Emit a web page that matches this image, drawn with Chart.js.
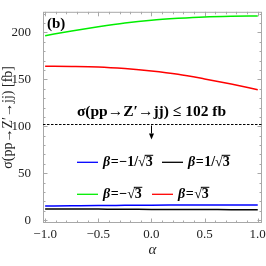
<!DOCTYPE html>
<html><head><meta charset="utf-8">
<script src="https://cdn.jsdelivr.net/npm/chart.js@4"></script>
<style>html,body{margin:0;padding:0;background:#fff;overflow:hidden}#wrap{width:266px;height:266px;position:relative}</style>
</head><body><div id="wrap"><canvas id="c"></canvas></div>
<script>
const alphaVals = [-1, -0.75, -0.5, -0.25, 0, 0.25, 0.5, 0.75, 1];
const sigmaBlue  = [15.0, 15.3, 15.6, 15.8, 16.0, 16.1, 16.2, 16.3, 16.3];
const sigmaBlack = [12.0, 11.9, 11.8, 11.7, 11.5, 11.4, 11.3, 11.2, 11.1];
const sigmaGreen = [196.6, 201.5, 206.0, 210.0, 213.0, 215.0, 216.5, 217.2, 217.5];
const sigmaRed   = [164.0, 163.8, 163.2, 161.5, 159.0, 155.5, 150.5, 145.0, 139.0];
const seriesLabels = ['β=−1/√3', 'β=1/√3', 'β=−√3', 'β=√3'];
const seriesColors = ['#0000ff', '#000000', '#00ee00', '#ff0000'];
const xTickVals = [-1, -0.5, 0, 0.5, 1];
const yTickVals = [0, 50, 100, 150, 200];
const sigmaBound = 102;
const boundLabel = 'σ(pp→Z′→jj) ≤ 102 fb';
const panelLabel = '(b)';
const yTitle = 'σ(pp→Z′→jj) [fb]';
const xTitle = 'α';

const SERIF = '"Liberation Serif", "DejaVu Serif", serif';
const seriesY = [sigmaBlue, sigmaBlack, sigmaGreen, sigmaRed];
const datasets = seriesY.map((arr, i) => ({
  label: seriesLabels[i],
  data: alphaVals.map((a, j) => ({x: a, y: arr[j]})),
  borderColor: seriesColors[i],
  borderWidth: 1.5,
  pointRadius: 0,
  cubicInterpolationMode: 'monotone',
  fill: false
}));

function drawLegendLabel(ctx, text, x, y) {
  ctx.save();
  ctx.textBaseline = 'middle';
  ctx.textAlign = 'left';
  ctx.fillStyle = '#000';
  const fs = 14;
  ctx.font = 'italic bold ' + fs + 'px ' + SERIF;
  ctx.fillText(text[0], x, y);
  x += ctx.measureText(text[0]).width + 0.5;
  ctx.font = 'bold ' + fs + 'px ' + SERIF;
  const k = text.indexOf('√');
  const parts = [text[1], text.slice(2, k), '√'];
  ctx.fillText(parts[0], x, y);
  x += ctx.measureText(parts[0]).width + 0.5;
  ctx.fillText(parts[1], x, y);
  x += ctx.measureText(parts[1]).width;
  ctx.fillText(parts[2], x, y);
  x += ctx.measureText(parts[2]).width;
  const rad = text.slice(k + 1);
  ctx.fillText(rad, x, y);
  const w = ctx.measureText(rad).width;
  ctx.strokeStyle = '#000';
  ctx.lineWidth = 1;
  ctx.beginPath();
  ctx.moveTo(x - 1, y - 7);
  ctx.lineTo(x + w + 0.5, y - 7);
  ctx.stroke();
  ctx.restore();
}

const decor = {
  id: 'decor',
  beforeDatasetsDraw(chart) {
    const {ctx, chartArea: a, scales: {x, y}} = chart;
    ctx.save();
    ctx.strokeStyle = '#a8a8a8';
    ctx.lineWidth = 1;
    ctx.strokeRect(a.left + 0.5, a.top + 0.5, a.right - a.left - 1, a.bottom - a.top - 1);
    ctx.beginPath();
    for (let i = -10; i <= 10; i++) {
      const v = i / 10;
      const px = Math.round(x.getPixelForValue(v)) + 0.5;
      const len = (i % 5 === 0) ? 4.5 : 2.5;
      ctx.moveTo(px, a.bottom); ctx.lineTo(px, a.bottom - len);
      ctx.moveTo(px, a.top); ctx.lineTo(px, a.top + len);
    }
    for (let v = 0; v <= 220; v += 10) {
      const py = Math.round(y.getPixelForValue(v)) + 0.5;
      const len = (v % 50 === 0) ? 4.5 : 2.5;
      ctx.moveTo(a.left, py); ctx.lineTo(a.left + len, py);
      ctx.moveTo(a.right, py); ctx.lineTo(a.right - len, py);
    }
    ctx.stroke();
    ctx.restore();
  },
  afterDatasetsDraw(chart) {
    const {ctx, chartArea: a, scales: {x, y}} = chart;
    ctx.save();
    const by = Math.round(y.getPixelForValue(sigmaBound)) + 0.5;
    ctx.strokeStyle = '#000';
    ctx.lineWidth = 1;
    ctx.setLineDash([2.5, 1.5]);
    ctx.beginPath();
    ctx.moveTo(a.left, by); ctx.lineTo(a.right, by);
    ctx.stroke();
    ctx.setLineDash([]);
    const ax = Math.round(x.getPixelForValue(0)) + 0.5;
    ctx.beginPath();
    ctx.moveTo(ax, by + 1); ctx.lineTo(ax, by + 9);
    ctx.stroke();
    ctx.fillStyle = '#000';
    ctx.beginPath();
    ctx.moveTo(ax - 2.5, by + 9); ctx.lineTo(ax + 2.5, by + 9); ctx.lineTo(ax, by + 15);
    ctx.closePath(); ctx.fill();
    ctx.font = 'bold 15.5px ' + SERIF;
    ctx.textAlign = 'center';
    ctx.textBaseline = 'middle';
    ctx.fillText(boundLabel, ax, by - 13);
    ctx.font = 'bold 15px ' + SERIF;
    ctx.textAlign = 'left';
    ctx.fillText(panelLabel, a.left + 4, a.top + 12);
    const rows = [
      {y: a.top + 150.5, items: [[0, a.left + 34], [1, a.left + 119]]},
      {y: a.top + 182.5, items: [[2, a.left + 34], [3, a.left + 109]]}
    ];
    rows.forEach(r => {
      r.items.forEach(([i, lx]) => {
        ctx.strokeStyle = seriesColors[i];
        ctx.lineWidth = 1.3;
        ctx.beginPath();
        ctx.moveTo(lx, r.y); ctx.lineTo(lx + 21, r.y);
        ctx.stroke();
        drawLegendLabel(ctx, seriesLabels[i], lx + 26, r.y);
      });
    });
    ctx.restore();
  }
};

const fmtX = v => (v < 0 ? '−' : '') + Math.abs(v).toFixed(1);

new Chart(document.getElementById('c'), {
  type: 'line',
  data: {datasets},
  options: {
    responsive: true,
    maintainAspectRatio: false,
    animation: false,
    layout: {padding: {top: 5, right: 4, left: 0, bottom: 0}},
    plugins: {legend: {display: false}, tooltip: {enabled: false}},
    scales: {
      x: {
        type: 'linear', min: -1.02, max: 1.04,
        afterBuildTicks: s => { s.ticks = xTickVals.map(v => ({value: v})); },
        afterFit: s => { s.height = 43; },
        grid: {display: false},
        border: {display: false},
        ticks: {autoSkip: false, maxRotation: 0, padding: -4, color: '#222',
          font: {family: SERIF, size: 13}, callback: v => fmtX(v)},
        title: {display: true, text: xTitle, color: '#222', padding: {top: 0, bottom: 7},
          font: {family: SERIF, size: 15, style: 'italic'}}
      },
      y: {
        type: 'linear', min: -3, max: 222,
        afterBuildTicks: s => { s.ticks = yTickVals.map(v => ({value: v})); },
        afterFit: s => { s.width = 43; },
        grid: {display: false},
        border: {display: false},
        ticks: {autoSkip: false, padding: 4, color: '#222',
          font: {family: SERIF, size: 13}, callback: v => String(v)},
        title: {display: true, text: yTitle, color: '#222', padding: {top: 0, bottom: 0},
          font: {family: SERIF, size: 14}}
      }
    }
  },
  plugins: [decor]
});
</script>
</body></html>
